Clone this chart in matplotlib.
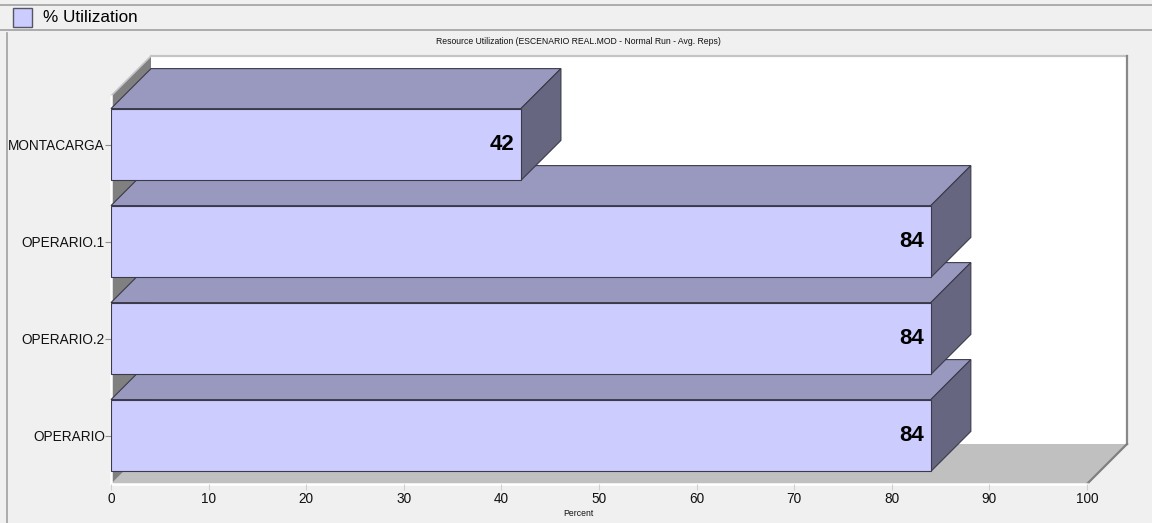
import matplotlib
matplotlib.use("Agg")
import matplotlib.pyplot as plt
from matplotlib.patches import Polygon, Rectangle
from matplotlib.lines import Line2D

plt.rcParams['font.family'] = ['Liberation Sans', 'DejaVu Sans']

# Resource utilization data
categories = ["OPERARIO", "OPERARIO.2", "OPERARIO.1", "MONTACARGA"]
utilization = [84, 84, 84, 42]
x_ticks = [0, 10, 20, 30, 40, 50, 60, 70, 80, 90, 100]
title = "Resource Utilization (ESCENARIO REAL.MOD - Normal Run - Avg. Reps)"
legend_label = "% Utilization"
x_label = "Percent"

W, H, DPI = 1152, 523, 100
BG = "#f0f0f0"
FRONT = "#ccccff"
TOP = "#9999bf"
SIDE = "#666680"
EDGE = "#3a3a4a"
DEPTH_PX = 40
BAR_H = 0.74

fig = plt.figure(figsize=(W / DPI, H / DPI), dpi=DPI, facecolor=BG)

# plot region (front plane of the 3-D box), in pixels
left_px, right_px, top_px, bottom_px = 111, 1087, 96, 484
ax = fig.add_axes([left_px / W, 1 - bottom_px / H,
                   (right_px - left_px) / W, (bottom_px - top_px) / H])
ax.set_facecolor("none")
ax.set_xlim(0, 100)
ax.set_ylim(-0.5, len(categories) - 0.5)
for s in ax.spines.values():
    s.set_visible(False)

# depth offset in data units
dx = DEPTH_PX * 100 / (right_px - left_px)
dy = DEPTH_PX * len(categories) / (bottom_px - top_px)
y0, y1 = -0.5, len(categories) - 0.5

# back wall
ax.add_patch(Rectangle((dx, y0 + dy), 100, y1 - y0, facecolor="white",
                       edgecolor="none", clip_on=False, zorder=0.5))
ax.add_line(Line2D([dx, 100 + dx], [y1 + dy, y1 + dy], color="#c4c4c4",
                   lw=1.6, clip_on=False, zorder=0.6))
ax.add_line(Line2D([100 + dx, 100 + dx], [y0 + dy, y1 + dy], color="#888888",
                   lw=1.6, clip_on=False, zorder=0.6))
# floor
ax.add_patch(Polygon([(0, y0), (100, y0), (100 + dx, y0 + dy), (dx, y0 + dy)],
                     closed=True, facecolor="#c0c0c0", edgecolor="none",
                     clip_on=False, zorder=0.7))
ax.add_line(Line2D([100, 100 + dx], [y0, y0 + dy], color="#808080",
                   lw=1.6, clip_on=False, zorder=0.8))
# left wall
ax.add_patch(Polygon([(0, y0), (dx, y0 + dy), (dx, y1 + dy), (0, y1)],
                     closed=True, facecolor="#808080", edgecolor="none",
                     clip_on=False, zorder=0.7))
ax.add_line(Line2D([0, dx], [y1, y1 + dy], color="#c4c4c4",
                   lw=1.2, clip_on=False, zorder=0.8))
# white front edges
ax.add_line(Line2D([0, 0], [y0, y1], color="white", lw=1.8,
                   clip_on=False, zorder=0.9))
ax.add_line(Line2D([0, 100], [y0, y0], color="white", lw=1.8,
                   clip_on=False, zorder=0.9))

# 3-D bars, bottom row first so upper rows sit in front
for i, v in enumerate(utilization):
    z = 2 + i
    lo, hi = i - BAR_H / 2, i + BAR_H / 2
    ax.add_patch(Polygon([(0, hi), (v, hi), (v + dx, hi + dy), (dx, hi + dy)],
                         closed=True, facecolor=TOP, edgecolor=EDGE, lw=0.8,
                         clip_on=False, zorder=z))
    ax.add_patch(Polygon([(v, lo), (v + dx, lo + dy), (v + dx, hi + dy), (v, hi)],
                         closed=True, facecolor=SIDE, edgecolor=EDGE, lw=0.8,
                         clip_on=False, zorder=z))
    ax.add_patch(Rectangle((0, lo), v, BAR_H, facecolor=FRONT,
                           edgecolor=EDGE, lw=0.8, clip_on=False, zorder=z))
    ax.annotate(f"{v:g}", xy=(v, i), xytext=(-7, 0), textcoords="offset pixels",
                ha="right", va="center", fontsize=16, fontweight="bold",
                color="black", zorder=z + 0.5)

ax.set_yticks(range(len(categories)))
ax.set_yticklabels(categories)
ax.set_xticks(x_ticks)
ax.set_xticklabels([str(t) for t in x_ticks])
ax.tick_params(axis="y", length=4, width=0.8, color="#909090", pad=0.5,
               labelsize=9.8, labelcolor="#111111")
ax.tick_params(axis="x", length=4, width=0.8, color="#d0d0d0", pad=2,
               labelsize=9.8, labelcolor="#111111")

# title and axis caption
fig.text(578 / W, 1 - 42 / H, title, ha="center", va="center",
         fontsize=6.2, color="#111111")
fig.text(578 / W, 1 - 513 / H, x_label, ha="center", va="center",
         fontsize=6.2, color="#111111")

# legend strip across the top
for yp in (5, 30):
    fig.add_artist(Line2D([0, 1], [1 - yp / H, 1 - yp / H], color="#a0a0a0",
                          lw=1.2, transform=fig.transFigure))
fig.add_artist(Line2D([7 / W, 7 / W], [0, 1 - 33 / H], color="#a0a0a0",
                      lw=1.2, transform=fig.transFigure))
fig.add_artist(Rectangle((13 / W, 1 - 27 / H), 19 / W, 19 / H,
                         facecolor=FRONT, edgecolor="#555566", lw=1.0,
                         transform=fig.transFigure))
fig.text(43 / W, 1 - 17.5 / H, legend_label, ha="left", va="center",
         fontsize=12.3, color="black")

fig.savefig("out.png", dpi=DPI, facecolor=BG)
